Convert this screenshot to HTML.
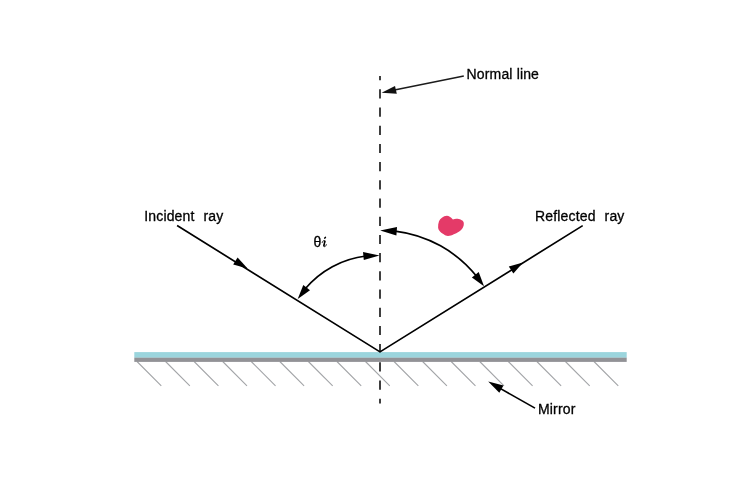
<!DOCTYPE html>
<html>
<head>
<meta charset="utf-8">
<title>Reflection diagram</title>
<style>
html,body{margin:0;padding:0;background:#fff;}
body{width:750px;height:500px;overflow:hidden;font-family:"Liberation Sans",sans-serif;}
svg{display:block;}
text{font-family:"Liberation Sans",sans-serif;font-size:14px;fill:#000;stroke:#000;stroke-width:0.3px;letter-spacing:0.15px;}
.i{font-family:"Liberation Serif",serif;font-style:italic;font-weight:bold;font-size:14px;}
</style>
</head>
<body>
<svg width="750" height="500" viewBox="0 0 750 500">
  <rect x="0" y="0" width="750" height="500" fill="#ffffff"/>

  <!-- hatch lines under mirror -->
  <g stroke="#a3a5a8" stroke-width="1.1" fill="none">
    <path d="M137 361.5l24.3 24.3M165.56 361.5l24.3 24.3M194.12 361.5l24.3 24.3M222.68 361.5l24.3 24.3M251.24 361.5l24.3 24.3M279.8 361.5l24.3 24.3M308.36 361.5l24.3 24.3M336.92 361.5l24.3 24.3M365.48 361.5l24.3 24.3M394.04 361.5l24.3 24.3M422.6 361.5l24.3 24.3M451.16 361.5l24.3 24.3M479.72 361.5l24.3 24.3M508.28 361.5l24.3 24.3M536.84 361.5l24.3 24.3M565.4 361.5l24.3 24.3M593.96 361.5l24.3 24.3"/>
  </g>

  <!-- normal (dashed) -->
  <line x1="380" y1="76" x2="380" y2="403.6" stroke="#2b2b2b" stroke-width="1.8" stroke-dasharray="9.2 9" stroke-dashoffset="4.9"/>

  <!-- mirror -->
  <rect x="134.3" y="352.1" width="492.4" height="5.7" fill="#9bd5dd"/>
  <rect x="134.3" y="357.7" width="492.4" height="4.2" fill="#929296"/>

  <!-- rays -->
  <path d="M177.1 225.5L380 351.9L582.7 225.6" fill="none" stroke="#000" stroke-width="1.7" stroke-linejoin="round"/>
  <!-- ray arrowheads -->
  <polygon points="247.6,268.6 233.2,264.4 237.6,257.4" fill="#000"/>
  <polygon points="523,262.4 508.8,266.6 513.4,273.6" fill="#000"/>

  <!-- angle arcs -->
  <path d="M366 255.98A93.87 93.87 0 0 0 305 289" fill="none" stroke="#000" stroke-width="1.7"/>
  <polygon points="379.5,255.5 363,251.9 363.8,260" fill="#000"/>
  <polygon points="297.7,299.1 303.3,285.1 310,290.3" fill="#000"/>

  <path d="M395 231.1A123.26 123.26 0 0 1 477 276.84" fill="none" stroke="#000" stroke-width="1.7"/>
  <polygon points="380.2,230.4 397,227 396.4,235.4" fill="#000"/>
  <polygon points="484,286.3 471.9,277.4 478.7,271.9" fill="#000"/>

  <!-- pink blob -->
  <path d="M446.9 215.8C449 215.8 450.4 217 452.9 219.4C455 218.4 457 218.6 458.8 218.9C460.5 219.2 461.6 219.8 462.4 220.6C463.4 221.6 463.9 222.6 463.8 223.8C463.8 225.4 463.4 226.6 462.8 227.8C461.8 229.6 460.4 230.8 458.8 231.8C457 233 455.6 233.6 453.8 234.3C452 235.2 450 235.9 448 235.9C446.4 235.9 445 235.2 443.7 234.3C442 233.2 440.4 232 439.4 230.7C438.6 229.7 438.1 228.6 438.1 227.4C438 225.4 438.3 223.2 439 221.3C439.6 219.8 440.6 218.6 441.9 217.7C443.4 216.6 445 215.8 446.9 215.8Z" fill="#e43a68"/>

  <!-- label arrows -->
  <line x1="463.8" y1="75.9" x2="392" y2="90.5" stroke="#1c1c1c" stroke-width="1.5"/>
  <polygon points="381.6,92.7 395,86.1 396.8,93.7" fill="#111"/>

  <line x1="535" y1="408.1" x2="497" y2="386.6" stroke="#000" stroke-width="1.65"/>
  <polygon points="488.2,381.4 503.5,385.4 499.3,392.7" fill="#000"/>

  <!-- text -->
  <g style="filter:grayscale(1)">
  <text x="466.6" y="79">Normal line</text>
  <text x="144.3" y="220.8">Incident</text>
  <text x="203.5" y="220.8">ray</text>
  <text x="535.1" y="220.6">Reflected</text>
  <text x="604.6" y="220.6">ray</text>
  <text x="538" y="414">Mirror</text>
  <text x="313.4" y="246.6">θ</text>
  <g fill="none" stroke="#000" stroke-linecap="round">
    <path d="M322.2 242.5C322.6 241.3 323.5 240.4 324.3 240.5C325.2 240.6 325 241.7 324.7 242.7L324 245C323.7 246.1 324 246.8 324.7 246.7C325.4 246.6 326 245.7 326.3 244.6" stroke-width="0.9"/>
    <path d="M324.85 241.2L323.85 245.8" stroke-width="1.5"/>
    <path d="M324.8 238.1L325.4 237.4" stroke-width="1.5"/>
  </g>
  </g>
</svg>
</body>
</html>
